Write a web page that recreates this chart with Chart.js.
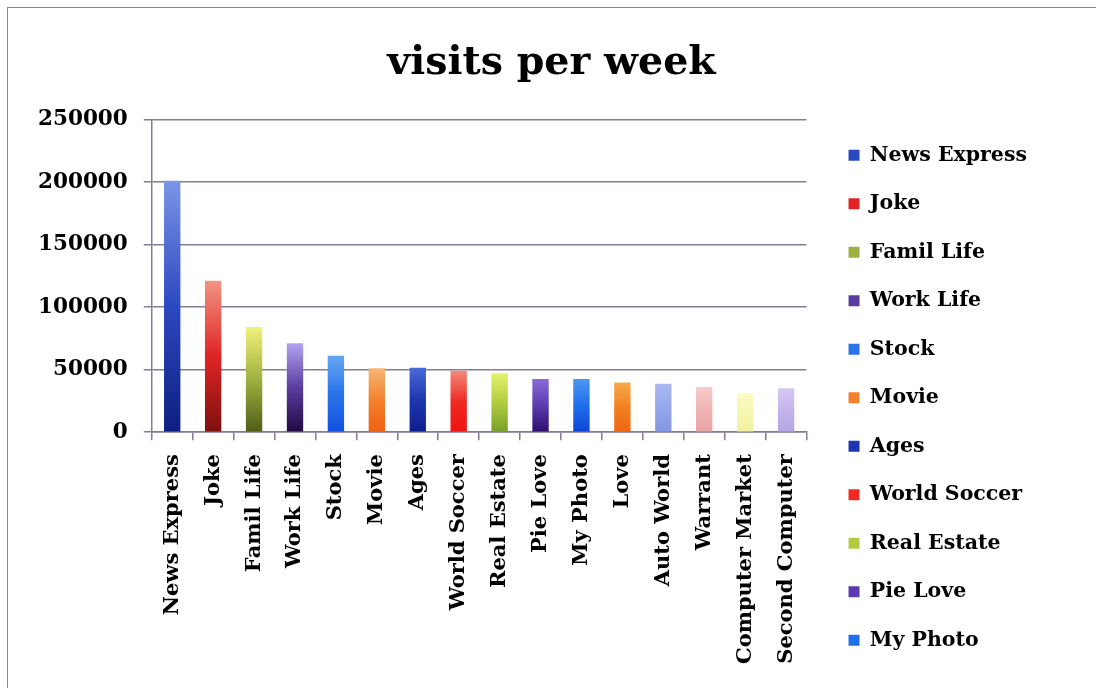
<!DOCTYPE html>
<html>
<head>
<meta charset="utf-8">
<script src="https://cdn.jsdelivr.net/npm/chart.js@4"></script>
<style>
  html, body { margin: 0; padding: 0; background: #ffffff; }
  #wrap { position: absolute; left: 0; top: 0; width: 1096px; height: 688px; }
  #frame { position: absolute; left: 7px; top: 7px; width: 1200px; height: 800px; border: 1.5px solid #8c8496; box-sizing: border-box; pointer-events: none; }
</style>
</head>
<body>
<div id="wrap">
  <canvas id="c" width="1096" height="688"></canvas>
  <div id="frame"></div>
</div>
<script>
const categories = ["News Express", "Joke", "Famil Life", "Work Life", "Stock", "Movie", "Ages", "World Soccer", "Real Estate", "Pie Love", "My Photo", "Love", "Auto World", "Warrant", "Computer Market", "Second Computer"];
const visits = [201000, 121000, 84000, 71000, 61000, 51000, 51500, 49000, 47000, 42500, 42500, 39700, 38600, 36000, 31000, 35000];
const yTicks = [0, 50000, 100000, 150000, 200000, 250000];
const chartTitle = "visits per week";
const legendShown = 11;

const topColors = ["#7a96e6", "#f29482", "#f2f27a", "#b4a4f0", "#66a6f4", "#f6b676", "#4a6ad6", "#f28a78", "#e4f26a", "#8a6ad6", "#4c98f2", "#f6aa4a", "#aab8f2", "#f8cccc", "#fbfbc6", "#d6c8f4"];
const midColors = ["#2c48c0", "#e02424", "#a0b040", "#5a3ca0", "#2a74ea", "#f2822e", "#1e36b0", "#f02a22", "#b0cc40", "#5a3cb0", "#1e70ea", "#f28020", "#96a6ec", "#f0b4b4", "#f6f6b0", "#c4b4ec"];
const botColors = ["#0e1e80", "#7c1010", "#4e5e16", "#1e0a42", "#1250e0", "#f06012", "#0e1e8c", "#f01212", "#78a028", "#2c0e6c", "#0c44d6", "#f06414", "#8496e4", "#e8a2a2", "#f0f0a2", "#b6a6e2"];

const axisColor = "#857a98";
const fontFamily = "'DejaVu Serif', serif";

function barGradient(ctx) {
  const chart = ctx.chart;
  const i = ctx.dataIndex;
  if (!chart.chartArea || i === undefined || !chart.scales.y) return midColors[i] || "#888";
  const ys = chart.scales.y;
  const yTop = ys.getPixelForValue(visits[i]);
  const yBot = ys.getPixelForValue(0);
  const g = chart.ctx.createLinearGradient(0, yTop, 0, yBot);
  g.addColorStop(0, topColors[i]);
  g.addColorStop(0.5, midColors[i]);
  g.addColorStop(1, botColors[i]);
  return g;
}

const blockOffset = {
  id: "blockOffset",
  afterLayout(chart) {
    const l = chart.legend;
    if (l) {
      const dx = 14, dy = 97;
      l.left += dx; l.right += dx; l.top += dy; l.bottom += dy;
    }
    const t = chart.titleBlock;
    if (t) {
      const tx = 29;
      t.left += tx; t.right += tx;
    }
  }
};

new Chart(document.getElementById("c"), {
  type: "bar",
  data: {
    labels: categories,
    datasets: [{
      label: chartTitle,
      data: visits,
      backgroundColor: barGradient,
      borderWidth: 0,
      categoryPercentage: 1.0,
      barPercentage: 0.4
    }]
  },
  options: {
    responsive: false,
    animation: false,
    layout: { padding: { left: 22, right: 73, top: 20, bottom: 10 } },
    plugins: {
      title: {
        display: true,
        text: chartTitle,
        color: "#000",
        font: { family: fontFamily, size: 39.5, weight: "bold" },
        padding: { top: 20, bottom: 32 }
      },
      legend: {
        position: "right",
        align: "start",
        labels: {
          color: "#000",
          font: { family: fontFamily, size: 20.5, weight: "bold" },
          boxWidth: 11,
          boxHeight: 11,
          padding: 28,
          generateLabels: function (chart) {
            return categories.map(function (name, i) {
              return { text: name, fillStyle: midColors[i], strokeStyle: midColors[i], lineWidth: 0, index: i, hidden: false };
            });
          },
          filter: function (item) { return item.index < legendShown; }
        }
      },
      tooltip: { enabled: false }
    },
    scales: {
      x: {
        offset: true,
        grid: { display: true, drawOnChartArea: false, drawTicks: true, tickLength: 8, color: axisColor, lineWidth: 1.5, offset: true },
        border: { display: true, color: axisColor, width: 1.5 },
        ticks: {
          color: "#000",
          minRotation: 90,
          maxRotation: 90,
          autoSkip: false,
          padding: 14,
          font: { family: fontFamily, size: 21, weight: "bold" }
        }
      },
      y: {
        min: 0,
        max: 250000,
        afterBuildTicks: function (scale) { scale.ticks = yTicks.map(function (v) { return { value: v }; }); },
        grid: { display: true, drawOnChartArea: true, drawTicks: true, tickLength: 8, color: axisColor, lineWidth: 1.5 },
        border: { display: true, color: axisColor, width: 1.5 },
        ticks: {
          color: "#000",
          padding: 16,
          font: { family: fontFamily, size: 21.5, weight: "bold" },
          callback: function (v) { return String(v); }
        }
      }
    }
  },
  plugins: [blockOffset]
});
</script>
</body>
</html>
